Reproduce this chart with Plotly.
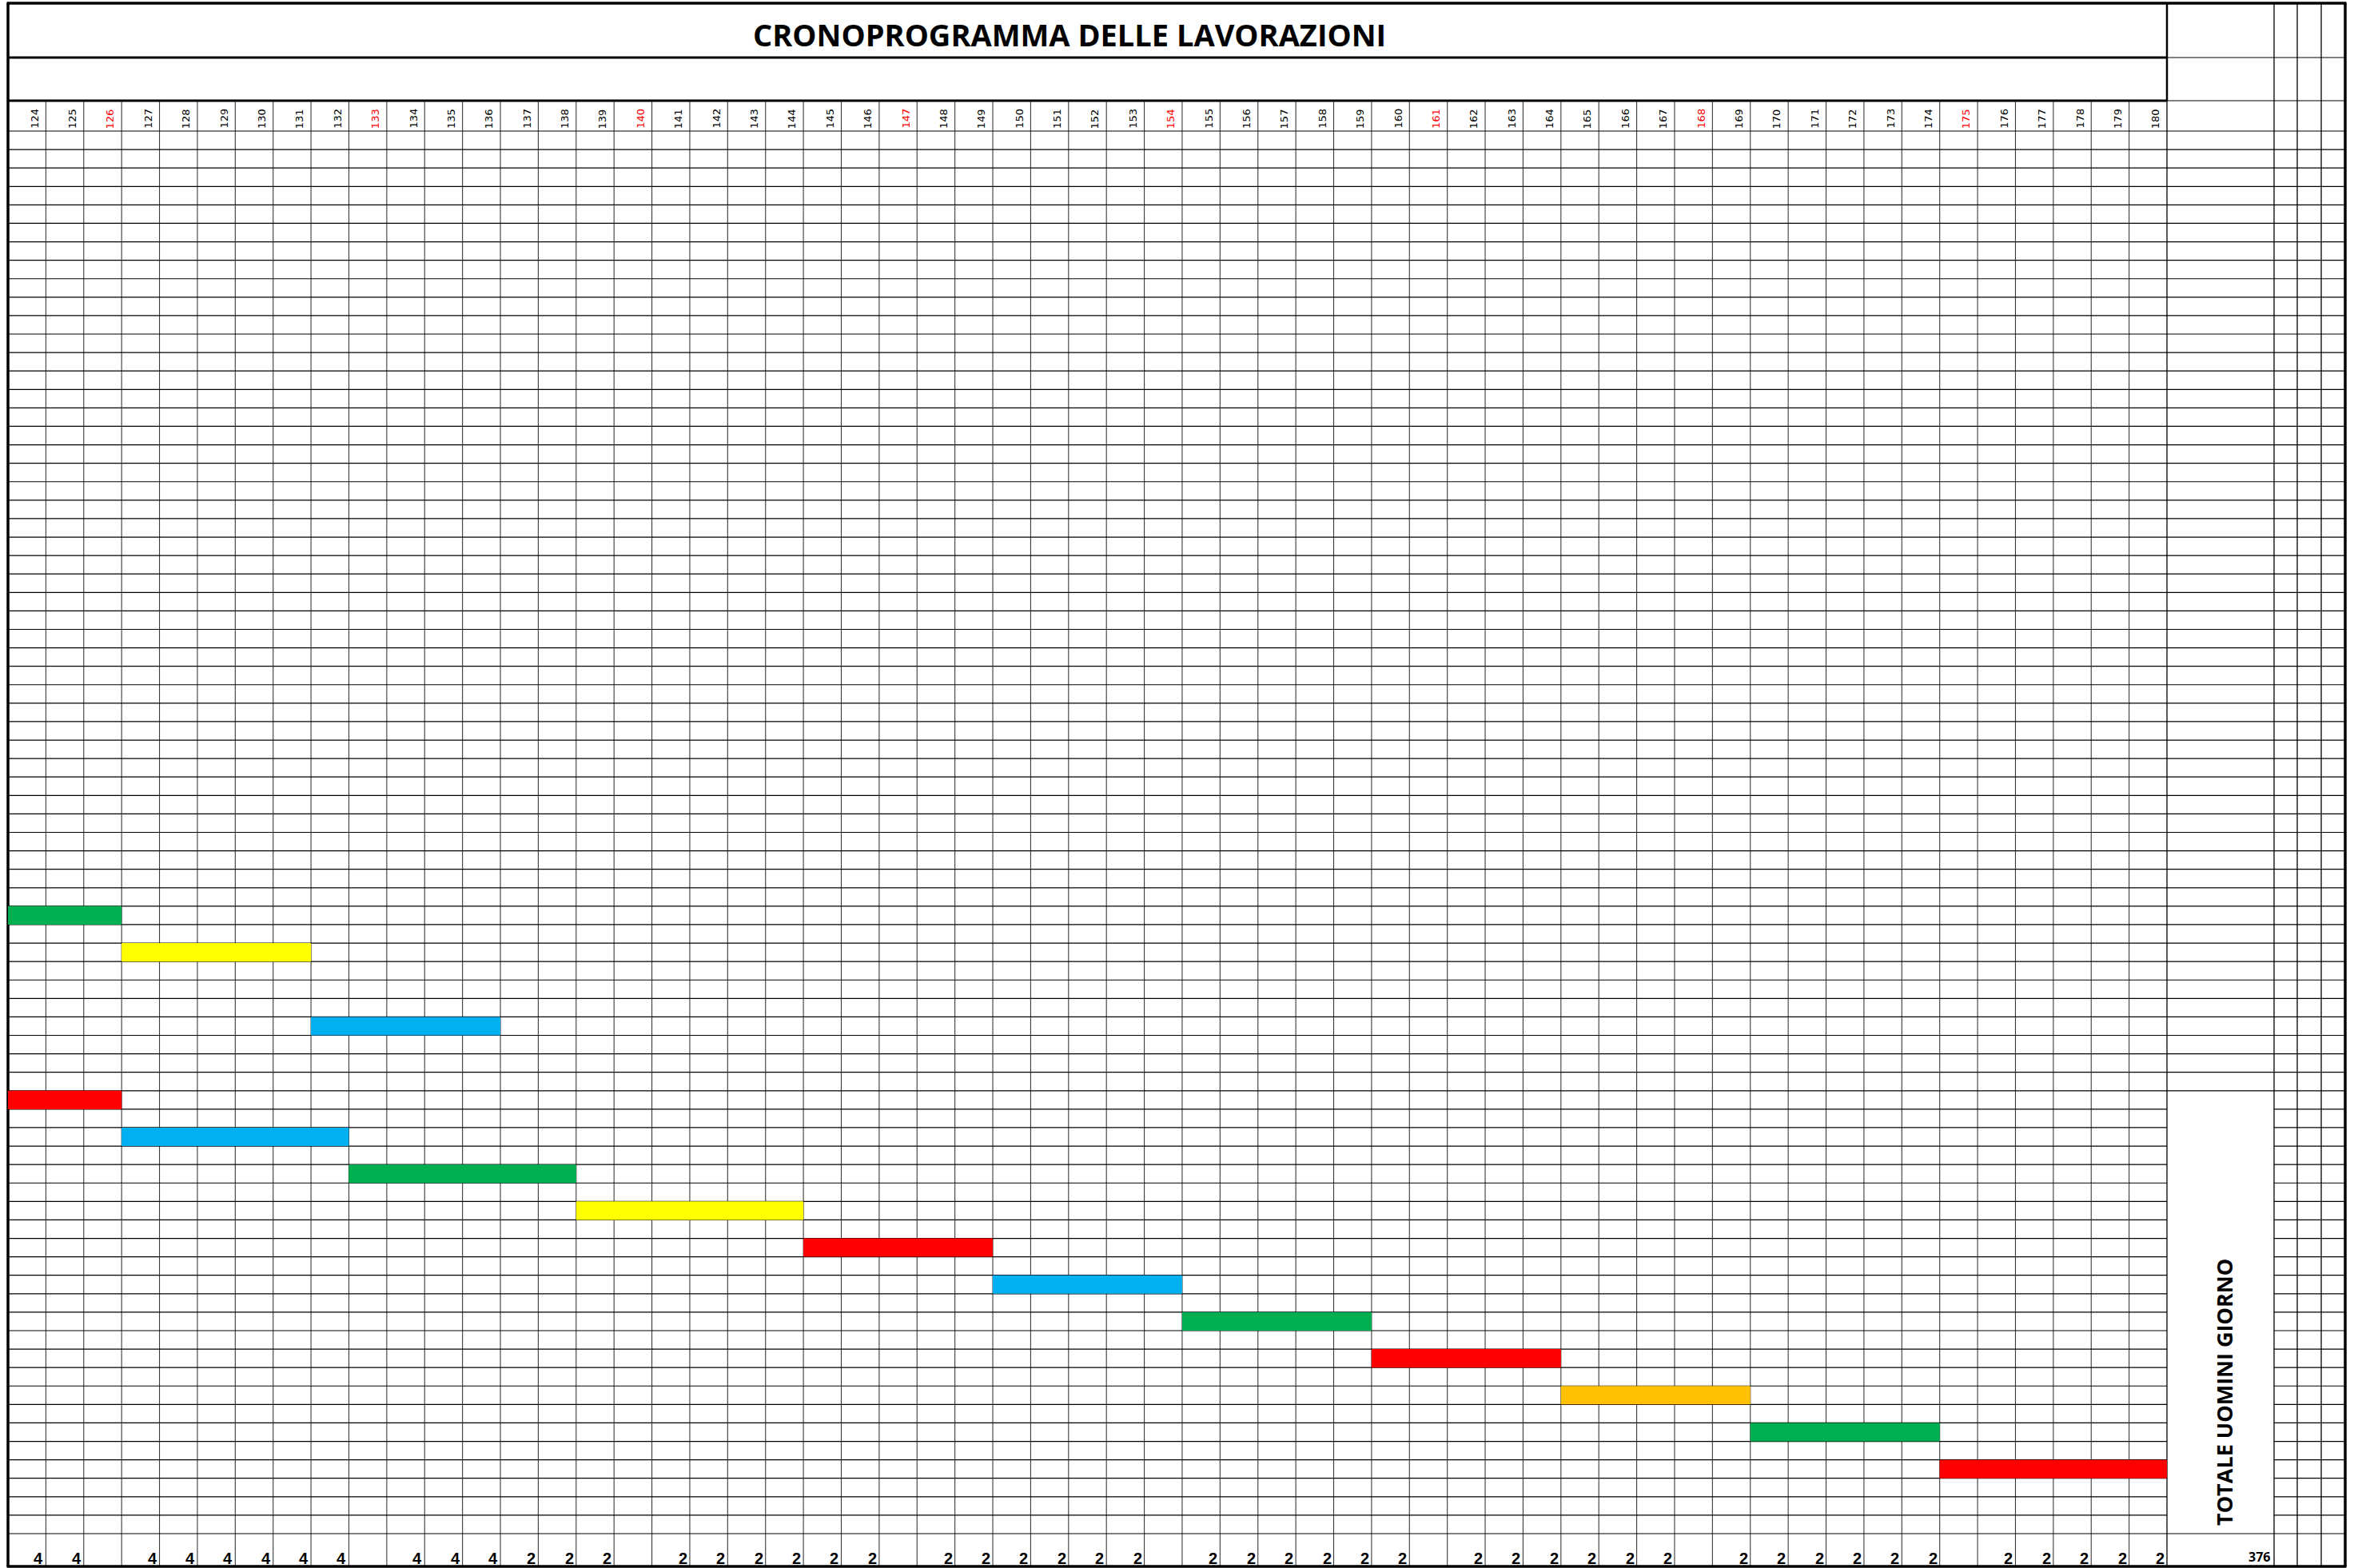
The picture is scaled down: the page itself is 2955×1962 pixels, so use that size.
import plotly.graph_objects as go

# ---------------- data ----------------
days = list(range(124, 181))
red_days = [126, 133, 140, 147, 154, 161, 168, 175]
workers = [4, 4, None, 4, 4, 4, 4, 4, 4, None, 4, 4, 4, 2, 2, 2, None,
           2, 2, 2, 2, 2, 2, None, 2, 2, 2, 2, 2, 2, None,
           2, 2, 2, 2, 2, 2, None, 2, 2, 2, 2, 2, 2, None,
           2, 2, 2, 2, 2, 2, None, 2, 2, 2, 2, 2]
total_label = "376"
title_text = "CRONOPROGRAMMA DELLE LAVORAZIONI"
side_label = "TOTALE UOMINI GIORNO"

task_rows = [42, 44, 48, 52, 54, 56, 58, 60, 62, 64, 66, 68, 70, 72]
task_start = [124, 127, 132, 124, 127, 133, 139, 145, 150, 155, 160, 165, 170, 175]
task_end = [126, 131, 136, 126, 132, 138, 144, 149, 154, 159, 164, 169, 174, 180]
task_colors = ["#00B050", "#FFFF00", "#00B0F0", "#FF0000", "#00B0F0", "#00B050",
               "#FFFF00", "#FF0000", "#00B0F0", "#00B050", "#FF0000", "#FFC000",
               "#00B050", "#FF0000"]
n_rows = 76
assert len(workers) == len(days)

# ---------------- layout geometry (page pixels) ----------------
W, H = 2955, 1962
GX0, GX1 = 10, 2711          # left grid (day columns)
COLW = (GX1 - GX0) / len(days)
HDR_TOP, Y0 = 126, 164       # header row, first grid row
ROWH = (1919 - Y0) / n_rows
TOP, BOTTOM, RIGHT = 4, 1960, 2934
SIDE_COLS = [2845, 2874, 2904]
MERGE_ROW = 52


def xd(px):
    return days[0] + (px - GX0) / COLW


def yd(px):
    return (px - Y0) / ROWH


shapes = []


def hline(ypx, x0px, x1px, w=1.2, c="#000000"):
    shapes.append(dict(type="line", xref="x", yref="y", layer="below",
                       x0=xd(x0px), x1=xd(x1px), y0=yd(ypx), y1=yd(ypx),
                       line=dict(color=c, width=w)))


def vline(x, y0px, y1px, w=1.2, c="#000000"):
    shapes.append(dict(type="line", xref="x", yref="y", layer="below",
                       x0=x, x1=x, y0=yd(y0px), y1=yd(y1px),
                       line=dict(color=c, width=w)))


# vertical day boundaries
for d in days[1:]:
    vline(d, HDR_TOP, BOTTOM, 1.1, "#3a3a3a")
vline(days[-1] + 1, TOP, HDR_TOP, 2.5)
vline(days[-1] + 1, HDR_TOP, BOTTOM, 1.3)
for sx in SIDE_COLS:
    vline(xd(sx), TOP, BOTTOM, 1.3)

# horizontal lines
hline(72, GX0, GX1, 3)
hline(HDR_TOP, GX0, GX1, 3)
hline(72, GX1, RIGHT, 1.2)
hline(HDR_TOP, GX1, RIGHT, 1.2)
hline(Y0, GX0, RIGHT, 1.2)
for r in range(1, n_rows + 1):
    ypx = Y0 + r * ROWH
    if r <= MERGE_ROW or r == n_rows:
        hline(ypx, GX0, RIGHT)
    else:
        hline(ypx, GX0, GX1)
        hline(ypx, SIDE_COLS[0], RIGHT)

# outer border
hline(TOP, GX0 - 1.5, RIGHT + 1.5, 3.5)
hline(BOTTOM, GX0 - 1.5, RIGHT + 1.5, 3.5)
vline(xd(GX0), TOP, BOTTOM, 3.5)
vline(xd(RIGHT), TOP, BOTTOM, 3.5)

# ---------------- traces ----------------
fig = go.Figure()
fig.add_trace(go.Bar(
    orientation="h",
    y=[r + 0.5 for r in task_rows],
    base=task_start,
    x=[e - s + 1 for s, e in zip(task_start, task_end)],
    width=1,
    marker=dict(color=task_colors, line=dict(width=0)),
    hoverinfo="skip",
))

annotations = []
# title
annotations.append(dict(x=xd(1338), y=yd(43), xref="x", yref="y", showarrow=False,
                        text="<b>%s</b>" % title_text, xanchor="center", yanchor="middle",
                        font=dict(family="Open Sans", size=38, color="#000000")))
# header day labels
for d in days:
    annotations.append(dict(x=d + 0.7, y=yd(162), xref="x", yref="y", showarrow=False,
                            text=str(d), textangle=-90, xanchor="center", yanchor="bottom",
                            borderpad=0,
                            font=dict(family="DejaVu Sans", size=13,
                                      color="#FF0000" if d in red_days else "#000000")))
# bottom totals
for d, v in zip(days, workers):
    if v is None:
        continue
    annotations.append(dict(x=d + 1, y=yd(1962), xref="x", yref="y", showarrow=False,
                            text="<b>%d</b>" % v, xanchor="right", yanchor="bottom",
                            xshift=-2, borderpad=0,
                            font=dict(family="Liberation Sans", size=20, color="#000000")))
annotations.append(dict(x=xd(SIDE_COLS[0]), y=yd(1960), xref="x", yref="y", showarrow=False,
                        text="<b>%s</b>" % total_label, xanchor="right", yanchor="bottom",
                        xshift=-4, borderpad=0,
                        font=dict(family="Open Sans", size=16, color="#000000")))
annotations.append(dict(x=xd(2782), y=yd(1910), xref="x", yref="y", showarrow=False,
                        text="<b>%s</b>" % side_label, textangle=-90,
                        xanchor="center", yanchor="bottom", borderpad=0,
                        font=dict(family="Open Sans", size=27, color="#000000")))

fig.update_layout(
    width=W, height=H,
    margin=dict(l=0, r=0, t=0, b=0, pad=0),
    paper_bgcolor="#FFFFFF", plot_bgcolor="#FFFFFF",
    showlegend=False,
    shapes=shapes,
    annotations=annotations,
    xaxis=dict(range=[xd(0), xd(W)], visible=False, showgrid=False, zeroline=False,
               fixedrange=True),
    yaxis=dict(range=[yd(H), yd(0)], visible=False, showgrid=False, zeroline=False,
               fixedrange=True),
)

fig.write_html("out.html", config={"displayModeBar": False},
               post_script="document.body.style.margin='0px';document.body.style.overflow='hidden';")
